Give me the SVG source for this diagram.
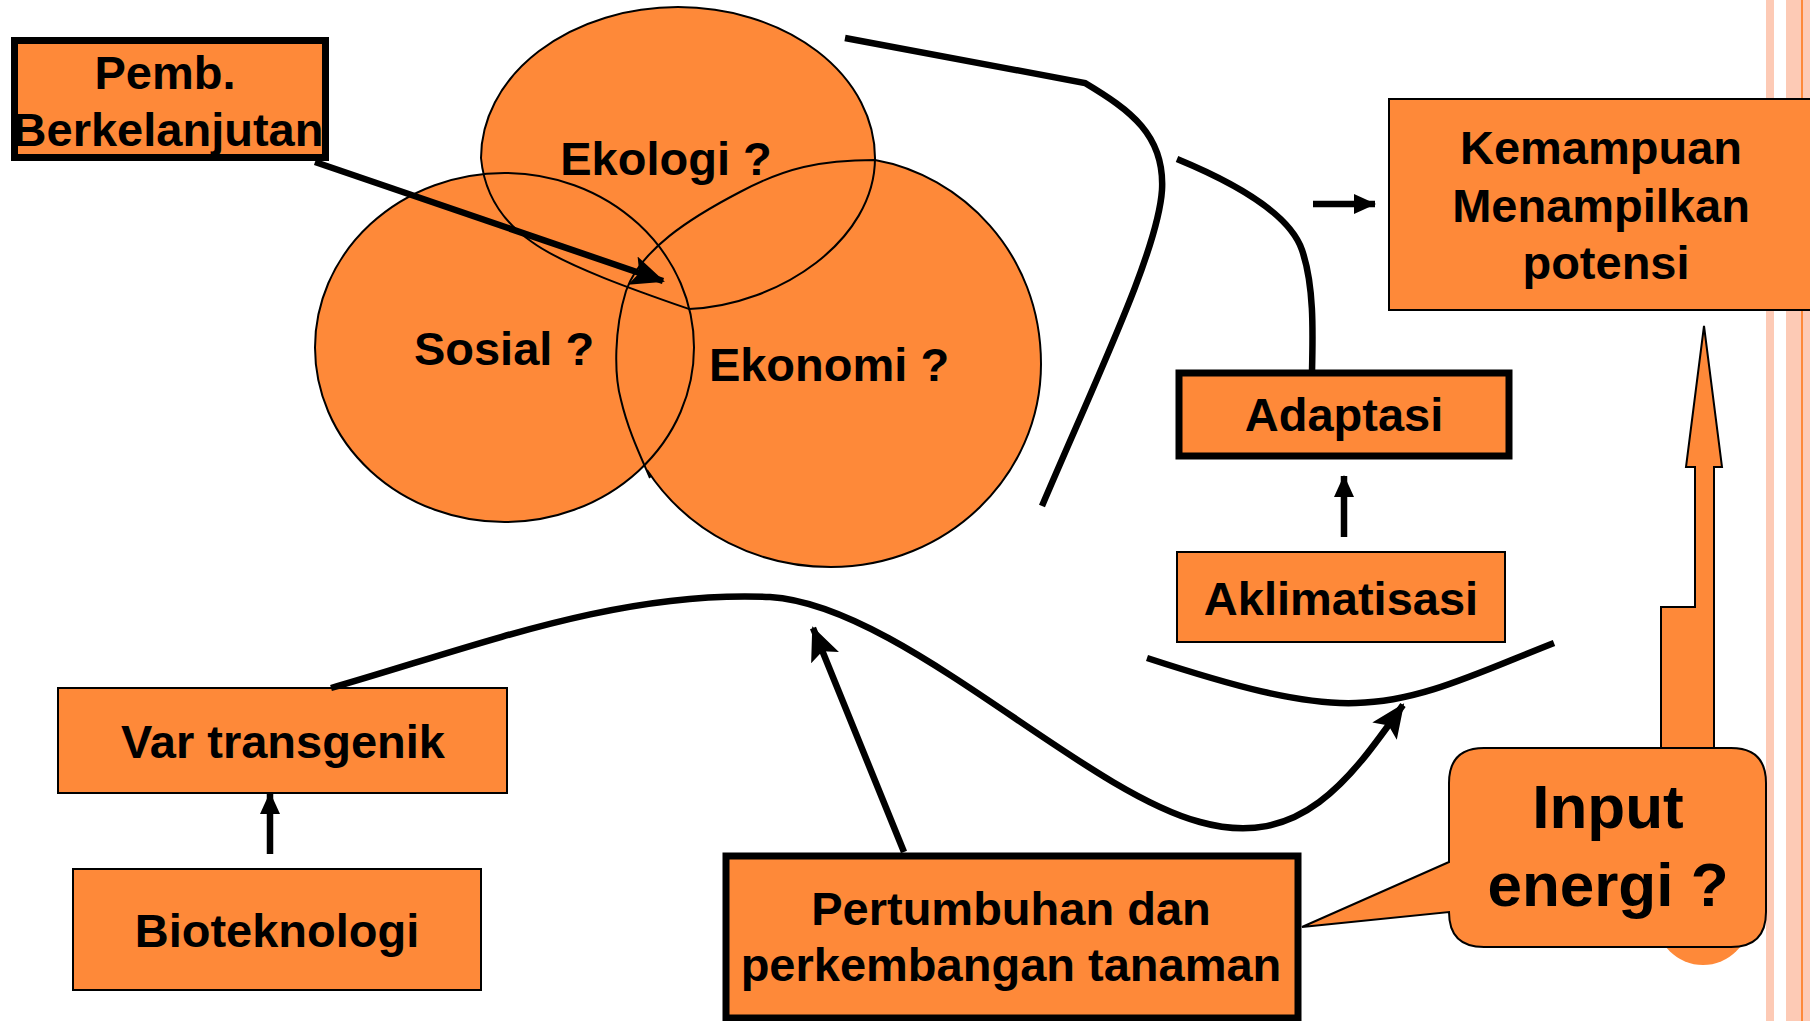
<svg xmlns="http://www.w3.org/2000/svg" width="1810" height="1021" viewBox="0 0 1810 1021">
<style>
.box{fill:#FE8939;stroke:#000;stroke-width:2}
.thick{fill:#FE8939;stroke:#000;stroke-width:7}
.fill{fill:#FE8939;stroke:none}
.ol{fill:none;stroke:#000;stroke-width:2}
.t{font-family:"Liberation Sans",Arial,sans-serif;font-weight:bold;font-size:47px;fill:#000;text-anchor:middle}
.big{font-size:62px}
.ln{fill:none;stroke:#000;stroke-width:6.5}
</style>
<defs>
<marker id="ah" markerUnits="userSpaceOnUse" markerWidth="40" markerHeight="36" refX="32" refY="15" orient="auto" viewBox="0 0 40 36">
<path d="M0,0 L34,15 L0,30 L7,15 Z" fill="#000"/>
</marker>
<marker id="ahs" markerUnits="userSpaceOnUse" markerWidth="26" markerHeight="24" refX="21" refY="10" orient="auto" viewBox="0 0 26 24">
<path d="M0,0 L22,10 L0,20 Z" fill="#000"/>
</marker>
</defs>
<rect width="1810" height="1021" fill="#fff"/>
<g id="border">
<rect x="1766" y="0" width="8" height="1021" fill="#FDCAB5"/>
<rect x="1786" y="0" width="24" height="1021" fill="#FDCAB5"/>
<rect x="1801" y="0" width="2" height="1021" fill="#FE8939"/>
</g>
<g id="venn">
<g id="ekologi-fill"><path class="fill" d="M481,158 A197,151 0 0 1 875,158 C875,240 780,305 689,309 C640,292 565,266 532,242 C500,220 484,190 481,158 Z"/></g>
<g id="sosial-fill"><ellipse class="fill" cx="504.5" cy="347.5" rx="189.5" ry="174.5"/></g>
<g id="ekonomi-fill"><path class="fill" d="M647,470 C690,535 760,567 831,567 C947,567 1041,476 1041,364 C1041,252 960,175 875,160 C820,160 785,168 740,192 C690,218 640,250 626,291 C614,330 614,375 621,400 C628,430 640,455 650,478 Z"/></g>
<path class="ol" d="M481,158 A197,151 0 0 1 875,158 C875,240 780,305 689,309 C640,292 565,266 532,242 C500,220 484,190 481,158 Z"/>
<ellipse class="ol" cx="504.5" cy="347.5" rx="189.5" ry="174.5"/>
<path class="ol" d="M647,470 C690,535 760,567 831,567 C947,567 1041,476 1041,364 C1041,252 960,175 875,160 C820,160 785,168 740,192 C690,218 640,250 626,291 C614,330 614,375 621,400 C628,430 640,455 650,478"/>
<text class="t" x="666" y="175">Ekologi ?</text>
<text class="t" x="504" y="365">Sosial ?</text>
<text class="t" x="829" y="381">Ekonomi ?</text>
</g>
<g id="pemb">
<rect class="thick" x="14.5" y="40.5" width="311" height="117"/>
<text class="t" x="165" y="89">Pemb.</text>
<text class="t" x="168" y="146">Berkelanjutan</text>
</g>
<g id="kemampuan">
<rect class="box" x="1389" y="99" width="430" height="211"/>
<text class="t" x="1601" y="164">Kemampuan</text>
<text class="t" x="1601" y="222">Menampilkan</text>
<text class="t" x="1606" y="279">potensi</text>
</g>
<g id="adaptasi">
<rect class="thick" x="1179" y="373" width="330" height="83"/>
<text class="t" x="1344" y="431">Adaptasi</text>
</g>
<g id="aklimatisasi">
<rect class="box" x="1177" y="552" width="328" height="90"/>
<text class="t" x="1341" y="615">Aklimatisasi</text>
</g>
<g id="var-transgenik">
<rect class="box" x="58" y="688" width="449" height="105"/>
<text class="t" x="283" y="758">Var transgenik</text>
</g>
<g id="bioteknologi">
<rect class="box" x="73" y="869" width="408" height="121"/>
<text class="t" x="277" y="947">Bioteknologi</text>
</g>
<g id="pertumbuhan">
<rect class="thick" x="726" y="856" width="572" height="162"/>
<text class="t" x="1011" y="925">Pertumbuhan dan</text>
<text class="t" x="1011" y="981">perkembangan tanaman</text>
</g>
<g id="input-energi">
<ellipse class="fill" cx="1703" cy="918" rx="47" ry="47"/>
<path d="M1704,326 L1722,467 L1714,467 L1714,750 L1661,750 L1661,607 L1695,607 L1695,467 L1686,467 Z" fill="#FE8939" stroke="#000" stroke-width="2"/>
<path d="M1484,748 L1731,748 Q1766,748 1766,783 L1766,912 Q1766,947 1731,947 L1484,947 Q1449,947 1449,912 L1302,927 L1449,862 L1449,783 Q1449,748 1484,748 Z" fill="#FE8939" stroke="#000" stroke-width="2"/>
<text class="t big" x="1608" y="828">Input</text>
<text class="t big" x="1608" y="906">energi ?</text>
</g>
<g id="connectors">
<path class="ln" d="M315,162 L663,281" marker-end="url(#ah)"/>
<path class="ln" d="M845,38 L1085,83 C1130,110 1165,135 1162,190 C1158,250 1100,370 1042,506"/>
<path class="ln" d="M1177,159 C1240,185 1290,215 1302,250 C1314,285 1313,330 1312,372"/>
<path class="ln" stroke-width="5.5" d="M1313,204 L1375,204" marker-end="url(#ahs)"/>
<path class="ln" stroke-width="5" d="M1344,537 L1344,476" marker-end="url(#ahs)"/>
<path class="ln" stroke-width="5" d="M270,854 L270,793" marker-end="url(#ahs)"/>
<path class="ln" d="M1147,658 C1230,685 1300,705 1356,703 C1420,702 1480,672 1554,643"/>
<path class="ln" d="M331,688 C480,645 620,590 770,597 C900,605 1080,790 1200,822 C1300,850 1350,780 1403,705" marker-end="url(#ah)"/>
<path class="ln" stroke-width="7.5" d="M904,852 L813,628" marker-end="url(#ah)"/>
</g>
</svg>
